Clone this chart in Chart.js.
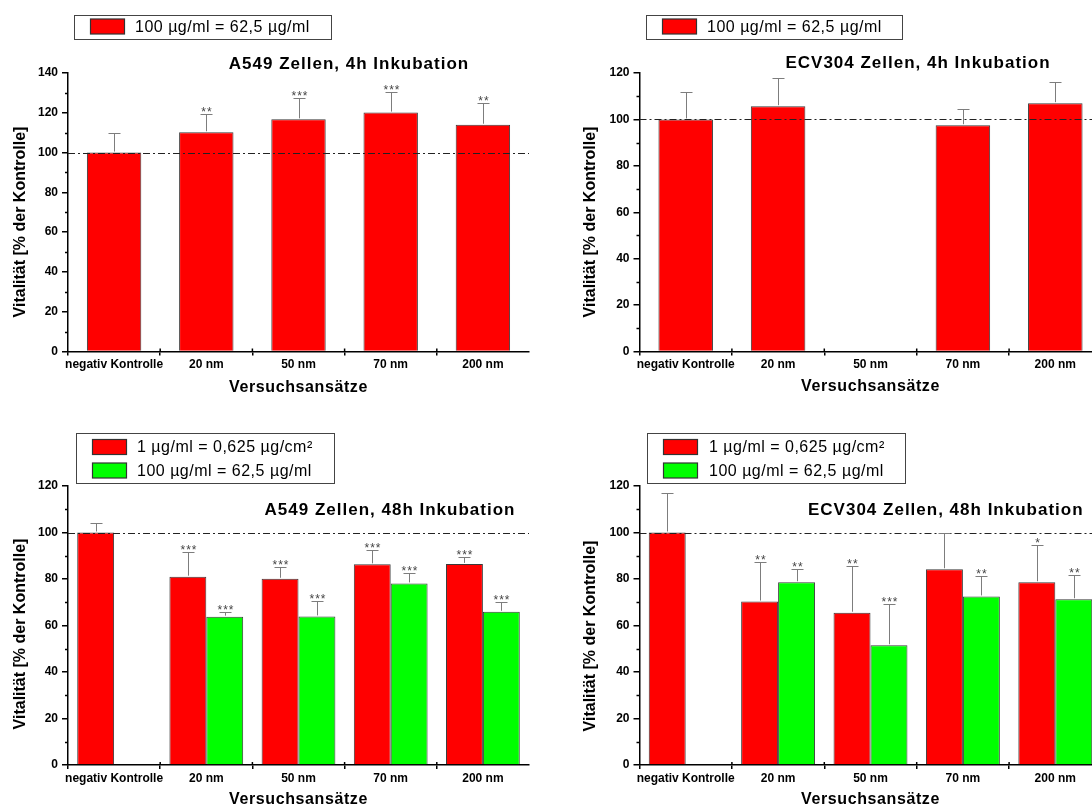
<!DOCTYPE html>
<html>
<head>
<meta charset="utf-8">
<title>Vitalität</title>
<script src="https://cdn.jsdelivr.net/npm/chart.js@4/dist/chart.umd.min.js"></script>
<style>
  html, body { margin: 0; padding: 0; background: #fff; width: 1092px; height: 807px; overflow: hidden; }
  .panel { position: absolute; }
</style>
</head>
<body>
<div class="panel" style="left:0;top:0"><canvas id="c1" width="546" height="400"></canvas></div>
<div class="panel" style="left:546px;top:0"><canvas id="c2" width="570" height="400"></canvas></div>
<div class="panel" style="left:0;top:400px"><canvas id="c3" width="546" height="407"></canvas></div>
<div class="panel" style="left:546px;top:400px"><canvas id="c4" width="570" height="407"></canvas></div>
<script>
// ---- data ----
const categories = ['negativ Kontrolle', '20 nm', '50 nm', '70 nm', '200 nm'];
const labelLow = '1 µg/ml = 0,625 µg/cm²';
const labelHigh = '100 µg/ml = 62,5 µg/ml';

// A549, 4 h
const a549_4h = [100, 110.2, 116.7, 120.1, 114.0];
const a549_4h_sd = [9.6, 9.3, 10.7, 10.5, 10.7];
const a549_4h_sig = ['', '**', '***', '***', '**'];

// ECV304, 4 h (50 nm not measured)
const ecv_4h = [100, 105.7, null, 97.5, 107.0];
const ecv_4h_sd = [11.9, 12.0, null, 6.8, 9.3];
const ecv_4h_sig = ['', '', '', '', ''];

// A549, 48 h
const a549_48h_low = [100, 81.0, 80.1, 86.3, 86.5];
const a549_48h_low_sd = [3.9, 10.5, 4.9, 6.0, 2.8];
const a549_48h_low_sig = ['', '***', '***', '***', '***'];
const a549_48h_high = [null, 63.8, 63.9, 78.1, 65.9];
const a549_48h_high_sd = [null, 2.1, 6.5, 4.5, 4.4];
const a549_48h_high_sig = ['', '***', '***', '***', '***'];

// ECV304, 48 h
const ecv_48h_low = [100, 70.3, 65.5, 84.2, 78.6];
const ecv_48h_low_sd = [17.1, 16.9, 19.9, 15.4, 15.9];
const ecv_48h_low_sig = ['', '**', '**', '', '*'];
const ecv_48h_high = [null, 78.6, 51.5, 72.5, 71.3];
const ecv_48h_high_sd = [null, 5.6, 17.6, 8.6, 10.4];
const ecv_48h_high_sig = ['', '**', '***', '**', '**'];

const referenceValue = 100;

// ---- styling ----
const RED = '#ff0000';
const GREEN = '#00ff00';
const FONT = '"Liberation Sans", Arial, Helvetica, sans-serif';
Chart.defaults.font.family = FONT;
Chart.defaults.color = '#000';

function line(ctx, x1, y1, x2, y2) {
  ctx.beginPath(); ctx.moveTo(x1, y1); ctx.lineTo(x2, y2); ctx.stroke();
}

// draws reference line, error bars, significance stars, minor ticks,
// titles and the framed legend
const decor = {
  id: 'decor',
  afterDatasetsDraw(chart, args, o) {
    const { ctx, chartArea: ca, scales: { x, y } } = chart;
    ctx.save();

    // dash-dot reference line
    ctx.strokeStyle = '#222';
    ctx.lineWidth = 1;
    ctx.setLineDash([7, 3, 2, 3]);
    const yr = Math.round(y.getPixelForValue(referenceValue)) + 0.5;
    line(ctx, ca.left, yr, ca.right, yr);
    ctx.setLineDash([]);

    // error bars + stars
    chart.data.datasets.forEach((ds, di) => {
      const meta = chart.getDatasetMeta(di);
      meta.data.forEach((bar, i) => {
        const v = ds.data[i], e = ds.sd[i];
        if (v == null || e == null) return;
        const xp = Math.round(bar.x) + 0.5;
        const y0 = y.getPixelForValue(v);
        const y1 = Math.round(y.getPixelForValue(v + e)) + 0.5;
        ctx.strokeStyle = '#7d7d7d';
        ctx.lineWidth = 1;
        line(ctx, xp, y0 - 1, xp, y1);
        line(ctx, xp - 6, y1, xp + 6, y1);
        const s = ds.sig[i];
        if (s) {
          ctx.fillStyle = '#444';
          ctx.font = '12px ' + FONT;
          ctx.letterSpacing = '1px';
          ctx.textAlign = 'center';
          ctx.textBaseline = 'alphabetic';
          ctx.fillText(s, xp + 0.5, y1 + 1);
          ctx.letterSpacing = '0px';
        }
      });
    });
    ctx.restore();
  },
  afterDraw(chart, args, o) {
    const { ctx, chartArea: ca, scales: { x, y } } = chart;
    ctx.save();
    ctx.strokeStyle = '#000';
    ctx.lineWidth = 1.5;
    // minor y ticks
    for (let v = 10; v < y.max; v += 20) {
      const p = Math.round(y.getPixelForValue(v)) + 0.5;
      line(ctx, ca.left - 3, p, ca.left, p);
    }
    // inner category boundary ticks, above the axis
    const half = (x.getPixelForValue(1) - x.getPixelForValue(0)) / 2;
    for (let i = 0; i < categories.length - 1; i++) {
      const bx = x.getPixelForValue(i) + half;
      line(ctx, bx, ca.bottom - 3, bx, ca.bottom);
    }

    ctx.fillStyle = '#000';
    // chart title
    ctx.font = 'bold 17px ' + FONT;
    ctx.letterSpacing = '1px';
    ctx.textAlign = o.titleAlign;
    ctx.textBaseline = 'middle';
    ctx.fillText(o.title, o.titleX, o.titleY);

    // axis titles
    ctx.font = 'bold 16px ' + FONT;
    ctx.letterSpacing = '0.6px';
    ctx.textAlign = 'center';
    ctx.fillText('Versuchsansätze', (ca.left + ca.right) / 2, o.xTitleY);
    ctx.letterSpacing = '0px';
    ctx.save();
    ctx.translate(o.yTitleX, o.yTitleY);
    ctx.rotate(-Math.PI / 2);
    ctx.fillText('Vitalität [% der Kontrolle]', 0, 0);
    ctx.restore();

    // legend box
    const L = o.legend;
    ctx.fillStyle = '#fff';
    ctx.fillRect(L.x, L.y, L.w, L.h);
    ctx.strokeStyle = '#444';
    ctx.lineWidth = 1;
    ctx.strokeRect(Math.round(L.x) + 0.5, Math.round(L.y) + 0.5, Math.round(L.w), Math.round(L.h));
    chart.data.datasets.forEach((ds, di) => {
      const ry = L.rowY[di];
      ctx.fillStyle = ds.backgroundColor;
      ctx.fillRect(L.sx, ry - 7.5, L.sw, 15);
      ctx.strokeStyle = '#333';
      ctx.lineWidth = 1.2;
      ctx.strokeRect(L.sx + 0.5, ry - 7.5, L.sw, 15);
      ctx.fillStyle = '#000';
      ctx.font = '16px ' + FONT;
      ctx.letterSpacing = '0.5px';
      ctx.textAlign = 'left';
      ctx.textBaseline = 'middle';
      ctx.fillText(ds.label, L.tx, ry + 1);
      ctx.letterSpacing = '0px';
    });
    ctx.restore();
  }
};

function makeChart(id, cfg) {
  const datasets = cfg.series.map(s => ({
    label: s.label,
    data: s.data,
    sd: s.sd,
    sig: s.sig,
    backgroundColor: s.color,
    borderColor: '#3a3a3a',
    borderWidth: 1,
    categoryPercentage: cfg.catPct,
    barPercentage: 1.0
  }));
  return new Chart(document.getElementById(id), {
    type: 'bar',
    data: { labels: categories, datasets },
    options: {
      responsive: false,
      animation: false,
      devicePixelRatio: 1,
      layout: { padding: cfg.pad },
      plugins: {
        legend: { display: false },
        tooltip: { enabled: false },
        decor: cfg.decor
      },
      scales: {
        x: {
          type: 'category',
          offset: true,
          afterFit(s) { s.height = 30; },
          grid: {
            offset: true, drawOnChartArea: false, drawTicks: true, tickLength: 4, lineWidth: 1.5,
            // no tick mark at the far right end of the axis
            color: c => (c.type === 'scale' ? 'rgba(0,0,0,0)' : '#000')
          },
          border: { color: '#000', width: 1.5 },
          ticks: { font: { size: 12, weight: 'bold' }, color: '#000', padding: 2, maxRotation: 0, autoSkip: false }
        },
        y: {
          min: 0,
          max: cfg.yMax,
          afterFit(s) { s.width = cfg.yW; },
          grid: { drawOnChartArea: false, drawTicks: true, tickLength: 6, color: '#000', lineWidth: 1.5 },
          border: { color: '#000', width: 1.5 },
          ticks: { stepSize: 20, font: { size: 12, weight: 'bold' }, color: '#000', padding: 4 }
        }
      }
    },
    plugins: [decor]
  });
}

// A549 4h
makeChart('c1', {
  yMax: 140, yW: 68, catPct: 0.59,
  pad: { left: 0, top: 73, right: 17, bottom: 18.5 },
  series: [{ label: labelHigh, data: a549_4h, sd: a549_4h_sd, sig: a549_4h_sig, color: RED }],
  decor: {
    title: 'A549 Zellen, 4h Inkubation', titleX: 349, titleY: 64, titleAlign: 'center',
    xTitleY: 388, yTitleX: 21, yTitleY: 222,
    legend: { x: 74, y: 14.5, w: 257, h: 24, sx: 90, sw: 34, tx: 135, rowY: [26.5] }
  }
});

// ECV304 4h
makeChart('c2', {
  yMax: 120, yW: 93.5, catPct: 0.59,
  pad: { left: 0, top: 73, right: 14.5, bottom: 18.5 },
  series: [{ label: labelHigh, data: ecv_4h, sd: ecv_4h_sd, sig: ecv_4h_sig, color: RED }],
  decor: {
    title: 'ECV304 Zellen, 4h Inkubation', titleX: 372, titleY: 63, titleAlign: 'center',
    xTitleY: 387, yTitleX: 45, yTitleY: 222,
    legend: { x: 100, y: 14.5, w: 256, h: 24, sx: 116, sw: 34, tx: 161, rowY: [26.5] }
  }
});

// A549 48h
makeChart('c3', {
  yMax: 120, yW: 68, catPct: 0.8,
  pad: { left: 0, top: 86, right: 17, bottom: 12 },
  series: [
    { label: labelLow, data: a549_48h_low, sd: a549_48h_low_sd, sig: a549_48h_low_sig, color: RED },
    { label: labelHigh, data: a549_48h_high, sd: a549_48h_high_sd, sig: a549_48h_high_sig, color: GREEN }
  ],
  decor: {
    title: 'A549 Zellen, 48h Inkubation', titleX: 390, titleY: 110, titleAlign: 'center',
    xTitleY: 400, yTitleX: 21, yTitleY: 234,
    legend: { x: 76, y: 33, w: 258, h: 50, sx: 92, sw: 34, tx: 137, rowY: [47, 70.5] }
  }
});

// ECV304 48h
makeChart('c4', {
  yMax: 120, yW: 93.5, catPct: 0.8,
  pad: { left: 0, top: 86, right: 14.5, bottom: 12 },
  series: [
    { label: labelLow, data: ecv_48h_low, sd: ecv_48h_low_sd, sig: ecv_48h_low_sig, color: RED },
    { label: labelHigh, data: ecv_48h_high, sd: ecv_48h_high_sd, sig: ecv_48h_high_sig, color: GREEN }
  ],
  decor: {
    title: 'ECV304 Zellen, 48h Inkubation', titleX: 262, titleY: 110, titleAlign: 'left',
    xTitleY: 400, yTitleX: 45, yTitleY: 236,
    legend: { x: 101, y: 33, w: 258, h: 50, sx: 117, sw: 34, tx: 163, rowY: [47, 70.5] }
  }
});
</script>
</body>
</html>
